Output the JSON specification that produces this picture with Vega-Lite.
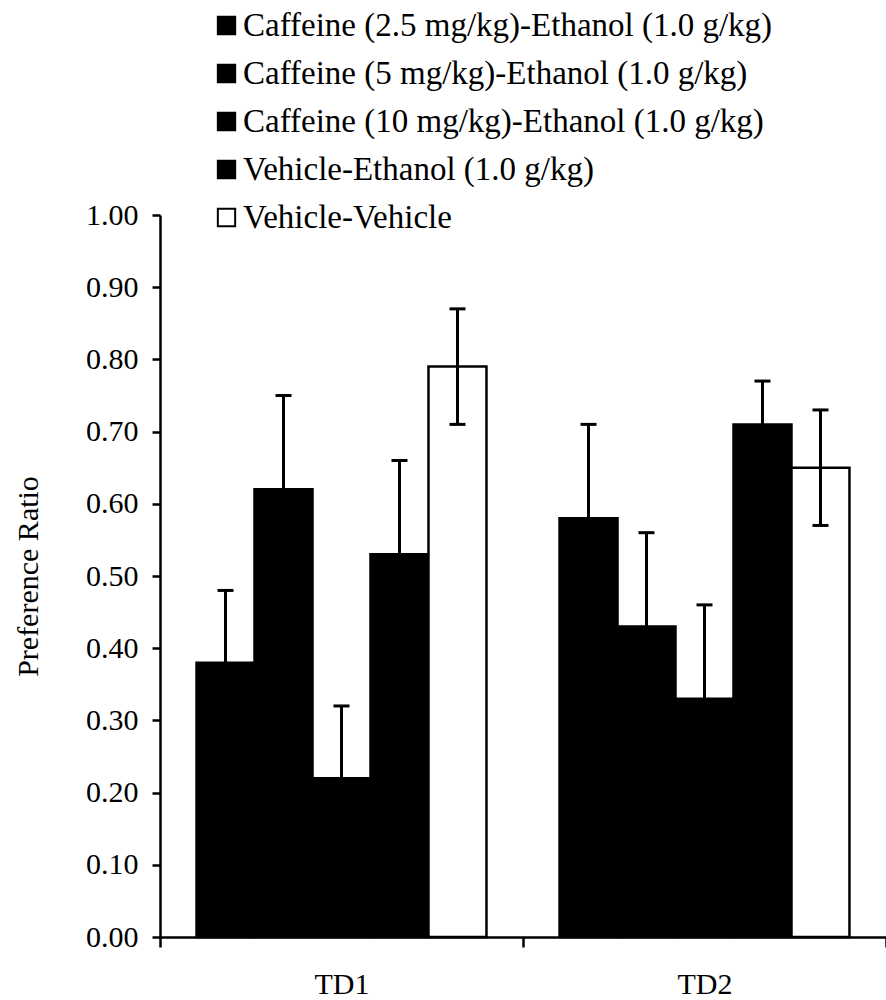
{
  "$schema": "https://vega.github.io/schema/vega-lite/v6.json",
  "width": 726,
  "height": 722,
  "autosize": "none",
  "padding": {"left": 160, "top": 215, "right": 0, "bottom": 63},
  "background": "white",
  "config": {
    "font": "Liberation Serif",
    "view": {"stroke": null}
  },
  "data": {
    "values": [
      {"day": "TD1", "group": "Caffeine (2.5 mg/kg)-Ethanol (1.0 g/kg)", "mean": 0.38, "lo": 0.28, "hi": 0.48},
      {"day": "TD1", "group": "Caffeine (5 mg/kg)-Ethanol (1.0 g/kg)", "mean": 0.62, "lo": 0.49, "hi": 0.75},
      {"day": "TD1", "group": "Caffeine (10 mg/kg)-Ethanol (1.0 g/kg)", "mean": 0.22, "lo": 0.12, "hi": 0.32},
      {"day": "TD1", "group": "Vehicle-Ethanol (1.0 g/kg)", "mean": 0.53, "lo": 0.40, "hi": 0.66},
      {"day": "TD1", "group": "Vehicle-Vehicle", "mean": 0.79, "lo": 0.71, "hi": 0.87},
      {"day": "TD2", "group": "Caffeine (2.5 mg/kg)-Ethanol (1.0 g/kg)", "mean": 0.58, "lo": 0.45, "hi": 0.71},
      {"day": "TD2", "group": "Caffeine (5 mg/kg)-Ethanol (1.0 g/kg)", "mean": 0.43, "lo": 0.30, "hi": 0.56},
      {"day": "TD2", "group": "Caffeine (10 mg/kg)-Ethanol (1.0 g/kg)", "mean": 0.33, "lo": 0.20, "hi": 0.46},
      {"day": "TD2", "group": "Vehicle-Ethanol (1.0 g/kg)", "mean": 0.71, "lo": 0.65, "hi": 0.77},
      {"day": "TD2", "group": "Vehicle-Vehicle", "mean": 0.65, "lo": 0.57, "hi": 0.73}
    ]
  },
  "encoding": {
    "x": {
      "field": "day",
      "type": "nominal",
      "scale": {"paddingInner": 0, "paddingOuter": 0},
      "axis": {
        "title": null,
        "labelAngle": 0,
        "labelFontSize": 30,
        "labelColor": "black",
        "labelPadding": 22,
        "tickBand": "extent",
        "tickSize": 10,
        "tickWidth": 2.5,
        "tickColor": "black",
        "domainColor": "black",
        "domainWidth": 2.5
      }
    },
    "xOffset": {
      "field": "group",
      "type": "nominal",
      "sort": [
        "Caffeine (2.5 mg/kg)-Ethanol (1.0 g/kg)",
        "Caffeine (5 mg/kg)-Ethanol (1.0 g/kg)",
        "Caffeine (10 mg/kg)-Ethanol (1.0 g/kg)",
        "Vehicle-Ethanol (1.0 g/kg)",
        "Vehicle-Vehicle"
      ],
      "scale": {"paddingInner": 0, "paddingOuter": 0.63}
    }
  },
  "layer": [
    {
      "mark": {"type": "bar", "stroke": "black", "strokeWidth": 2.5},
      "encoding": {
        "y": {
          "field": "mean",
          "type": "quantitative",
          "scale": {"domain": [0, 1], "nice": false},
          "axis": {
            "title": "Preference Ratio",
            "titleFontSize": 30,
            "titleFontWeight": "normal",
            "titleColor": "black",
            "titlePadding": 42,
            "values": [0, 0.1, 0.2, 0.3, 0.4, 0.5, 0.6, 0.7, 0.8, 0.9, 1.0],
            "format": ".2f",
            "labelFontSize": 30,
            "labelColor": "black",
            "labelPadding": 14,
            "tickSize": 8,
            "tickWidth": 2.5,
            "tickColor": "black",
            "domainColor": "black",
            "domainWidth": 2.5,
            "grid": false
          }
        },
        "fill": {
          "field": "group",
          "type": "nominal",
          "sort": [
            "Caffeine (2.5 mg/kg)-Ethanol (1.0 g/kg)",
            "Caffeine (5 mg/kg)-Ethanol (1.0 g/kg)",
            "Caffeine (10 mg/kg)-Ethanol (1.0 g/kg)",
            "Vehicle-Ethanol (1.0 g/kg)",
            "Vehicle-Vehicle"
          ],
          "scale": {"range": ["black", "black", "black", "black", "white"]},
          "legend": {
            "title": null,
            "orient": "none",
            "legendX": 50,
            "legendY": -206,
            "symbolType": "square",
            "symbolSize": 300,
            "symbolStrokeColor": "black",
            "symbolStrokeWidth": 2,
            "symbolOpacity": 1,
            "labelFontSize": 33,
            "labelColor": "black",
            "labelLimit": 800,
            "labelOffset": 0,
            "rowPadding": 14
          }
        }
      }
    },
    {
      "mark": {"type": "rule", "color": "black", "strokeWidth": 3},
      "encoding": {
        "y": {"field": "lo", "type": "quantitative"},
        "y2": {"field": "hi"}
      }
    },
    {
      "mark": {"type": "tick", "orient": "horizontal", "color": "black", "size": 16, "thickness": 3, "opacity": 1},
      "encoding": {"y": {"field": "hi", "type": "quantitative"}}
    },
    {
      "mark": {"type": "tick", "orient": "horizontal", "color": "black", "size": 16, "thickness": 3, "opacity": 1},
      "encoding": {"y": {"field": "lo", "type": "quantitative"}}
    }
  ]
}
